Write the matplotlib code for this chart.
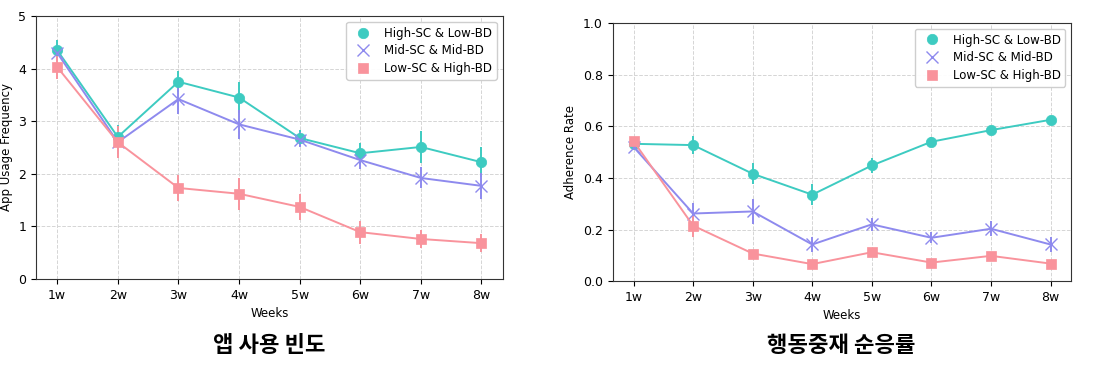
import matplotlib
matplotlib.use("Agg")
import matplotlib.pyplot as plt
from matplotlib.lines import Line2D
import numpy as np

WEEKS = ["1w", "2w", "3w", "4w", "5w", "6w", "7w", "8w"]
LABELS = ["High-SC & Low-BD", "Mid-SC & Mid-BD", "Low-SC & High-BD"]

# App usage frequency (mean, error)
USE_HIGH = [4.35, 2.70, 3.75, 3.45, 2.68, 2.39, 2.51, 2.22]
USE_HIGH_ERR = [0.20, 0.22, 0.20, 0.30, 0.15, 0.20, 0.30, 0.28]
USE_MID = [4.30, 2.60, 3.42, 2.94, 2.65, 2.26, 1.92, 1.77]
USE_MID_ERR = [0.15, 0.22, 0.28, 0.28, 0.15, 0.17, 0.20, 0.25]
USE_LOW = [4.03, 2.60, 1.73, 1.62, 1.37, 0.89, 0.76, 0.68]
USE_LOW_ERR = [0.22, 0.30, 0.25, 0.30, 0.24, 0.22, 0.17, 0.17]

# Adherence rate (mean, error)
ADH_HIGH = [0.532, 0.527, 0.416, 0.335, 0.448, 0.540, 0.585, 0.625]
ADH_HIGH_ERR = [0.010, 0.035, 0.040, 0.040, 0.030, 0.020, 0.012, 0.010]
ADH_MID = [0.520, 0.262, 0.270, 0.142, 0.220, 0.168, 0.203, 0.142]
ADH_MID_ERR = [0.010, 0.040, 0.050, 0.030, 0.025, 0.022, 0.030, 0.030]
ADH_LOW = [0.542, 0.215, 0.107, 0.066, 0.112, 0.072, 0.098, 0.068]
ADH_LOW_ERR = [0.010, 0.045, 0.012, 0.010, 0.012, 0.010, 0.010, 0.010]

TEAL = "#3DCBC1"
PURPLE = "#8E8AEE"
PINK = "#F9939C"
STYLES = [("o", TEAL, 7.5), ("x", PURPLE, 8.5), ("s", PINK, 7.5)]

x = np.arange(len(WEEKS))

fig = plt.figure(figsize=(11, 3.68), dpi=100)
ax1 = fig.add_axes([0.0327, 0.242, 0.4243, 0.7145])
ax2 = fig.add_axes([0.557, 0.236, 0.417, 0.7015])


def draw(ax, series, errs):
    handles = []
    for (m, c, ms), y, e, lab in zip(STYLES, series, errs, LABELS):
        mew = 1.0 if m == "x" else 0.5
        ax.errorbar(x, y, yerr=e, color=c, marker=m, markersize=ms,
                    linewidth=1.4, elinewidth=1.4, capsize=0,
                    markeredgewidth=mew, zorder=3)
        handles.append(Line2D([], [], color=c, marker=m, markersize=ms,
                              markeredgewidth=mew, linestyle="none", label=lab))
    ax.set_xticks(x)
    ax.set_xticklabels(WEEKS, fontsize=9)
    ax.tick_params(axis="y", labelsize=9)
    ax.set_xlabel("Weeks", fontsize=8.5)
    ax.grid(True, linestyle="--", linewidth=0.7, color="#D5D5D5", zorder=0)
    ax.set_axisbelow(True)
    ax.set_xlim(-0.35, 7.35)
    for s in ax.spines.values():
        s.set_color("#333333")
    ax.legend(handles=handles, loc="upper right", fontsize=8.5, framealpha=0.95,
              edgecolor="#CCCCCC", handletextpad=0.8, borderpad=0.4,
              labelspacing=0.4)


draw(ax1, [USE_HIGH, USE_MID, USE_LOW], [USE_HIGH_ERR, USE_MID_ERR, USE_LOW_ERR])
ax1.set_ylim(0, 5)
ax1.set_yticks(range(0, 6))
ax1.set_ylabel("App Usage Frequency", fontsize=8.5)

draw(ax2, [ADH_HIGH, ADH_MID, ADH_LOW], [ADH_HIGH_ERR, ADH_MID_ERR, ADH_LOW_ERR])
ax2.set_ylim(0, 1.0)
ax2.set_yticks(np.arange(0, 1.01, 0.2))
ax2.set_ylabel("Adherence Rate", fontsize=8.5)

fig.text(0.245, 0.06, "앱 사용 빈도", ha="center", va="center", fontsize=16,
         fontweight="bold", family=["Noto Sans CJK KR", "DejaVu Sans"])
fig.text(0.765, 0.06, "행동중재 순응률", ha="center", va="center", fontsize=16,
         fontweight="bold", family=["Noto Sans CJK KR", "DejaVu Sans"])

fig.savefig("out.png", dpi=100, facecolor="white")
